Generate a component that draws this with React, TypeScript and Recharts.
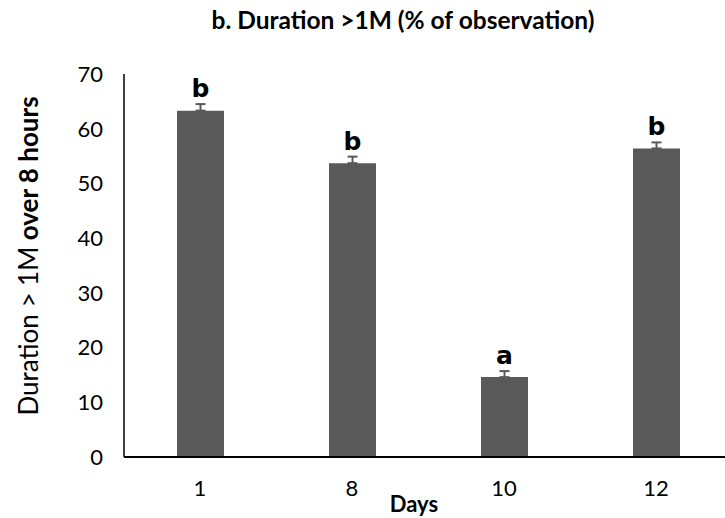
import React from 'react';
import { BarChart, Bar, XAxis, YAxis, ErrorBar, LabelList, Label } from 'recharts';

// Duration > 1M per observation day, with standard errors and significance letters
const days = ['1', '8', '10', '12'];
const durationPct = [63.3, 53.7, 14.6, 56.4];
const stdErr = [1.2, 1.2, 1.1, 1.1];
const groupLetters = ['b', 'b', 'a', 'b'];
const yTicks = [0, 10, 20, 30, 40, 50, 60, 70];

const data = days.map((day, i) => ({
  day,
  value: durationPct[i],
  err: [0, stdErr[i]],
  letter: groupLetters[i],
}));

const FONT = 'Lato, "Open Sans", sans-serif';
const BAR_COLOR = '#595959';

// letter sits just above the top of the error whisker
const LetterLabel = (props: any) => {
  const { x, y, width, height, value, index } = props;
  const errPx = (stdErr[index] * height) / durationPct[index];
  return (
    <text
      x={x + width / 2}
      y={y - errPx - 7}
      textAnchor="middle"
      fontFamily='"DejaVu Sans", sans-serif'
      fontWeight="bold"
      fontSize={25}
      fill="#000"
    >
      {value}
    </text>
  );
};

const YTitle = () => (
  <text
    x={28}
    y={256}
    transform="rotate(-90 28 256)"
    textAnchor="middle"
    dominantBaseline="central"
    fontFamily={FONT}
    fontSize={26}
    fill="#000"
  >
    <tspan>Duration &gt; 1M</tspan>
    <tspan fontWeight="bold"> over 8 hours</tspan>
  </text>
);

const XTitle = () => (
  <text
    x={414}
    y={503}
    textAnchor="middle"
    dominantBaseline="central"
    fontFamily={FONT}
    fontWeight="bold"
    fontSize={22}
    fill="#000"
  >
    Days
  </text>
);

export default function App() {
  return (
    <div style={{ position: 'fixed', left: 0, top: 0, width: 725, height: 518, overflow: 'hidden', background: '#fff' }}>
      <div
        style={{
          position: 'absolute',
          left: 0,
          top: 6,
          width: 806,
          textAlign: 'center',
          fontFamily: FONT,
          fontWeight: 'bold',
          fontSize: 24.5,
          lineHeight: '28px',
          color: '#000',
        }}
      >
        b. Duration &gt;1M (% of observation)
      </div>
      <BarChart
        width={740}
        height={518}
        data={data}
        margin={{ top: 74, right: 8, left: 0, bottom: 31 }}
        style={{ position: 'absolute', left: 0, top: 0 }}
      >
        <XAxis
          dataKey="day"
          height={30}
          interval={0}
          axisLine={{ stroke: '#000', strokeWidth: 2 }}
          tickLine={false}
          tickMargin={17}
          tick={{ fontFamily: FONT, fontSize: 22, fill: '#000' }}
        >
          <Label content={<XTitle />} />
        </XAxis>
        <YAxis
          width={124}
          domain={[0, 70]}
          ticks={yTicks}
          interval={0}
          axisLine={{ stroke: '#000', strokeWidth: 1.5 }}
          tickLine={false}
          tickMargin={15}
          tick={{ fontFamily: FONT, fontSize: 22, fill: '#000' }}
        >
          <Label content={<YTitle />} />
        </YAxis>
        <Bar dataKey="value" fill={BAR_COLOR} barSize={47} isAnimationActive={false}>
          <ErrorBar dataKey="err" width={5} stroke={BAR_COLOR} strokeWidth={2} direction="y" />
          <LabelList dataKey="letter" content={LetterLabel} />
        </Bar>
      </BarChart>
    </div>
  );
}
